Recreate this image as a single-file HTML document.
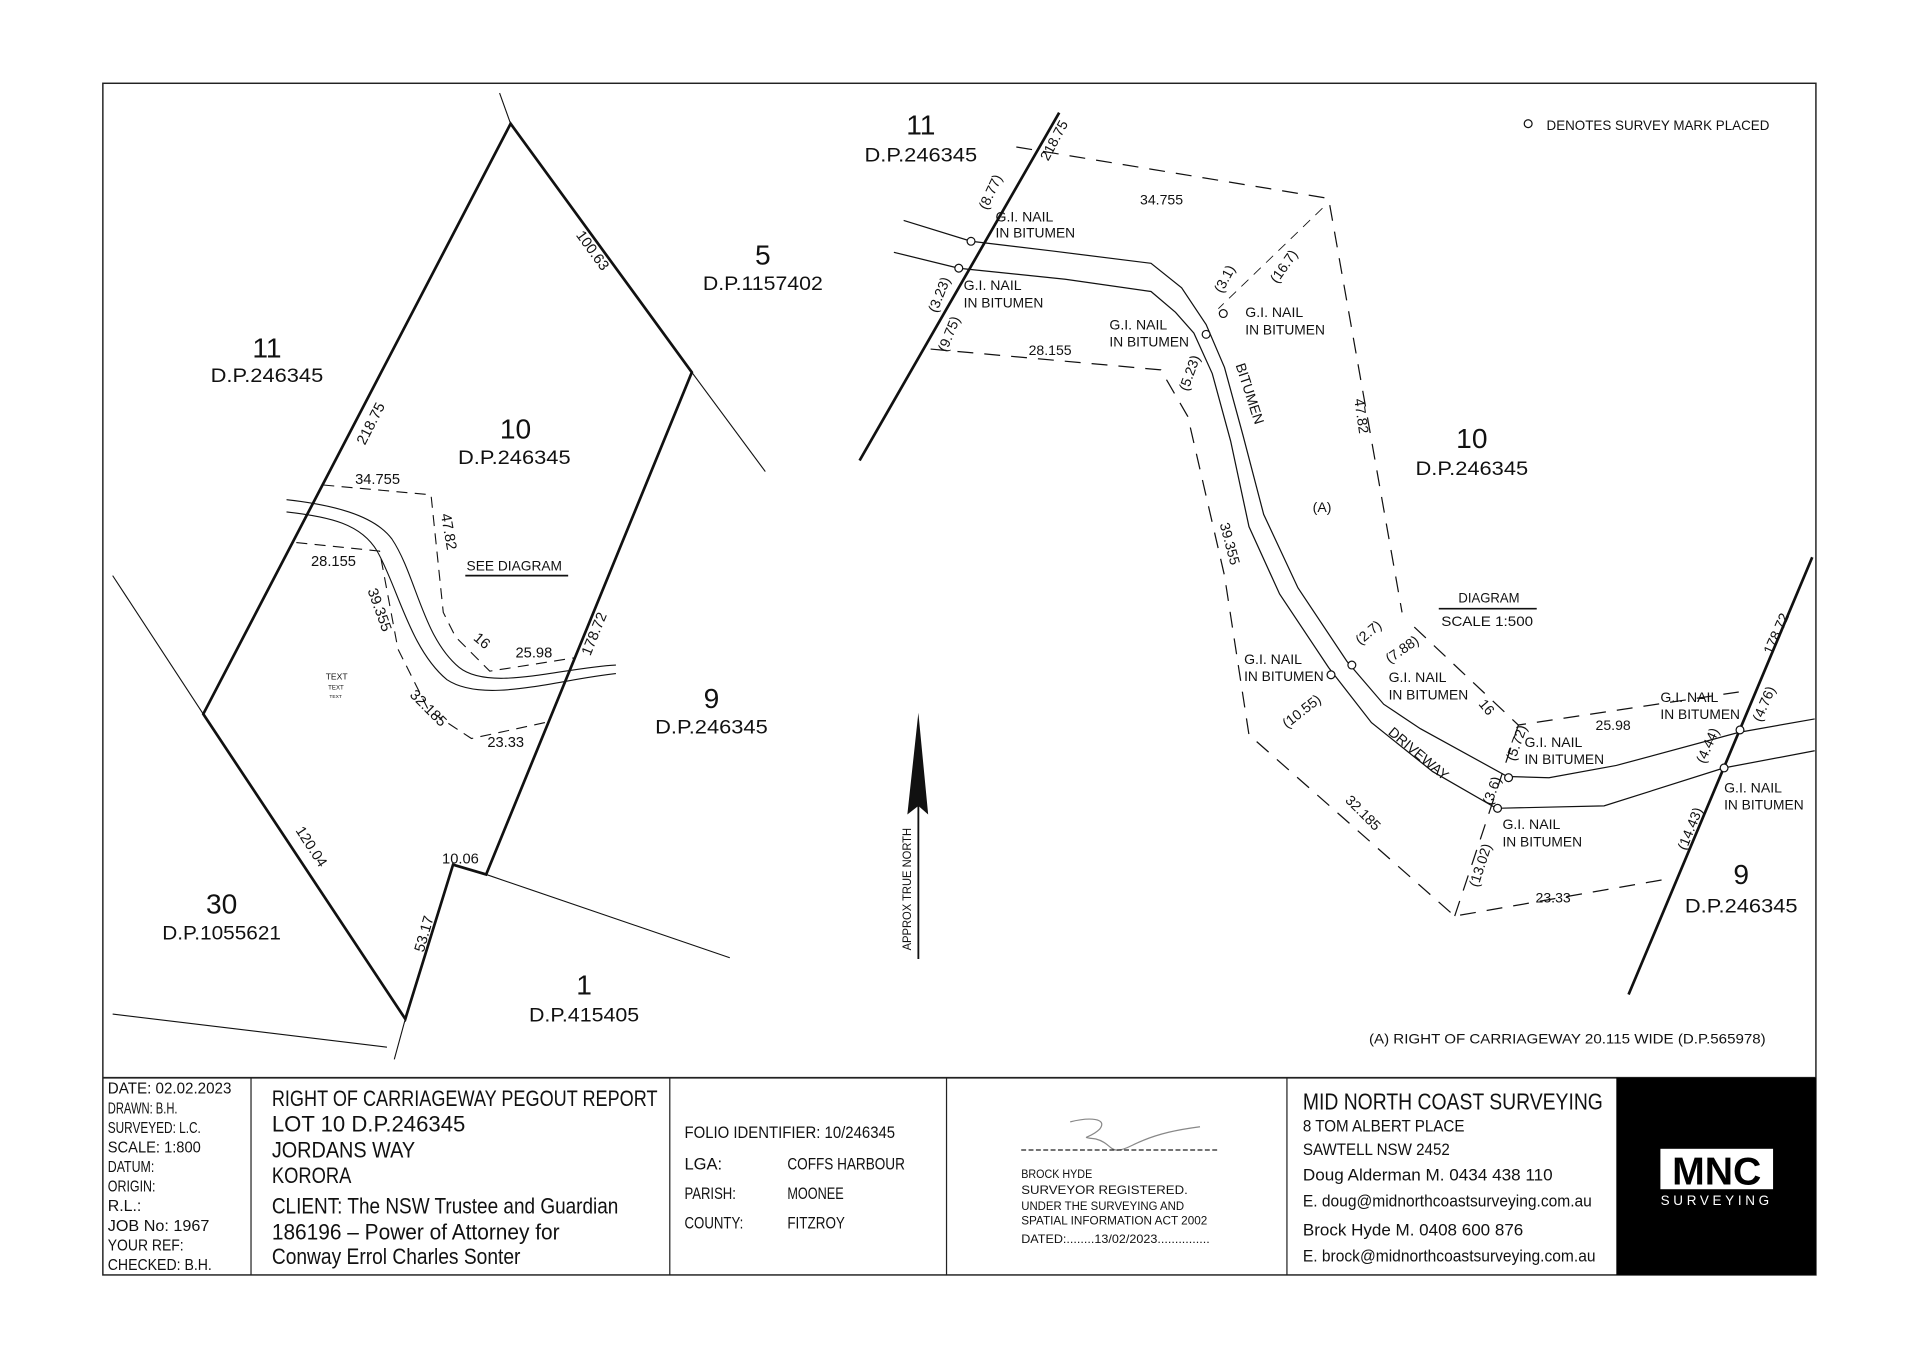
<!DOCTYPE html>
<html><head><meta charset="utf-8"><style>
html,body{margin:0;padding:0;background:#fff;}
svg{display:block;}
text{font-family:"Liberation Sans",sans-serif;fill:#111;}
</style></head><body>
<svg width="1920" height="1357" viewBox="0 0 1568 1108" preserveAspectRatio="none" xmlns="http://www.w3.org/2000/svg">
<rect x="0" y="0" width="1568" height="1108" fill="#fff"/>
<g fill="none" stroke="#222">
<rect x="84" y="68" width="1399" height="973" stroke-width="1.2"/>
<line x1="84" y1="880" x2="1483" y2="880" stroke-width="1.5"/>
<line x1="205" y1="880" x2="205" y2="1041"/>
<line x1="547" y1="880" x2="547" y2="1041"/>
<line x1="773" y1="880" x2="773" y2="1041"/>
<line x1="1051" y1="880" x2="1051" y2="1041"/>
</g>
<rect x="1320" y="880" width="163" height="161" fill="#000"/>

<!-- left lot -->
<g fill="none" stroke="#111">
<polygon points="417,101 565,304 397,714 370,706 331,832 166,583" stroke-width="2.2"/>
<g stroke-width="0.9">
<line x1="408" y1="76" x2="417" y2="101"/>
<line x1="565" y1="304" x2="625" y2="385"/>
<line x1="166" y1="583" x2="92" y2="470"/>
<line x1="331" y1="832" x2="322" y2="865"/>
<line x1="92" y1="828" x2="316" y2="855"/>
<line x1="397" y1="714" x2="596" y2="782"/>
<path d="M234,408 C270,412 305,420 320,440 C340,470 345,520 375,545 C400,565 460,545 503,543"/>
<path d="M234,418 C270,422 295,428 308,450 C325,480 335,530 365,555 C395,575 455,555 503,550"/>
</g>
<g stroke-width="0.9" stroke-dasharray="9,6">
<path d="M264,396 L352,404 L362,500 L372,520 L400,548 L470,537"/>
<path d="M242,443 L310,450 L325,530 L350,580 L385,603 L445,590"/>
</g>
</g>
<g font-size="12">
<text x="290" y="395">34.755</text>
<text x="254" y="462">28.155</text>
<text x="421" y="537">25.98</text>
<text x="398" y="610">23.33</text>
<text x="361" y="705">10.06</text>
<text transform="translate(360,420) rotate(80)">47.82</text>
<text transform="translate(300,482) rotate(70)">39.355</text>
<text transform="translate(334,568) rotate(45)">32.185</text>
<text transform="translate(386,522) rotate(40)">16</text>
<text transform="translate(470,192) rotate(54)">100.63</text>
<text transform="translate(298,364) rotate(-63)">218.75</text>
<text transform="translate(482,536) rotate(-68)">178.72</text>
<text transform="translate(241,678) rotate(57)">120.04</text>
<text transform="translate(346,778) rotate(-74)">53.17</text>
</g>
<text x="381" y="466" font-size="11.5" textLength="78" lengthAdjust="spacingAndGlyphs">SEE DIAGRAM</text>
<line x1="380" y1="470" x2="464" y2="470" stroke="#111" stroke-width="1.5"/>
<text x="266" y="555" font-size="7">TEXT</text><text x="268" y="563" font-size="5">TEXT</text><text x="269" y="570" font-size="4">TEXT</text>
<g font-size="23" text-anchor="middle">
<text x="218" y="292">11</text>
<text x="421" y="358">10</text>
<text x="623" y="216">5</text>
<text x="581" y="578">9</text>
<text x="181" y="746">30</text>
<text x="477" y="812">1</text>
<text x="752" y="110">11</text>
<text x="1202" y="366">10</text>
<text x="1422" y="722">9</text>
</g>
<g font-size="16" text-anchor="middle">
<text x="218" y="312" textLength="92" lengthAdjust="spacingAndGlyphs">D.P.246345</text>
<text x="420" y="379" textLength="92" lengthAdjust="spacingAndGlyphs">D.P.246345</text>
<text x="623" y="237" textLength="98" lengthAdjust="spacingAndGlyphs">D.P.1157402</text>
<text x="581" y="599" textLength="92" lengthAdjust="spacingAndGlyphs">D.P.246345</text>
<text x="181" y="767" textLength="97" lengthAdjust="spacingAndGlyphs">D.P.1055621</text>
<text x="477" y="834" textLength="90" lengthAdjust="spacingAndGlyphs">D.P.415405</text>
<text x="752" y="132" textLength="92" lengthAdjust="spacingAndGlyphs">D.P.246345</text>
<text x="1202" y="388" textLength="92" lengthAdjust="spacingAndGlyphs">D.P.246345</text>
<text x="1422" y="745" textLength="92" lengthAdjust="spacingAndGlyphs">D.P.246345</text>
</g>

<!-- north arrow -->
<line x1="750" y1="783" x2="750" y2="600" stroke="#111" stroke-width="1.5"/>
<polygon points="741,665 750,582 758,665 750,658" fill="#111"/>
<text transform="translate(744,776) rotate(-90)" font-size="10" textLength="100" lengthAdjust="spacingAndGlyphs">APPROX TRUE NORTH</text>

<!-- right diagram -->
<g fill="none" stroke="#111">
<line x1="702" y1="376" x2="865" y2="92" stroke-width="2.2"/>
<line x1="1330" y1="812" x2="1480" y2="455" stroke-width="2.2"/>
<g stroke-width="1">
<path d="M738,180 L793,197 L860,205 L940,215 L965,235 L985,265 L1000,300 L1015,355 L1032,420 L1060,480 L1100,540 L1130,575 L1160,595 L1231,634 L1265,635 L1320,625 L1420,598 L1482,587"/>
<path d="M730,206 L783,219 L870,228 L940,238 L960,255 L975,272 L990,305 L1005,360 L1020,430 L1045,485 L1085,545 L1120,590 L1170,630 L1222,660 L1310,658 L1408,627 L1482,613"/>
</g>
<g stroke-width="1" stroke-dasharray="13,9">
<path d="M830,120 L1085,162 L1145,500"/>
<path d="M1155,512 L1240,592 L1420,565"/>
<path d="M760,285 L948,302 L970,340 L1000,470 L1020,600 L1188,748 L1360,718"/>
<path d="M1188,748 L1240,592"/>
</g>
<path d="M1080,170 L995,252" stroke-width="0.7" stroke-dasharray="8,6"/>
<g stroke-width="1" fill="#fff">
<circle cx="793" cy="197" r="3.2"/><circle cx="783" cy="219" r="3.2"/>
<circle cx="999" cy="256" r="3.2"/><circle cx="985" cy="273" r="3.2"/>
<circle cx="1104" cy="543" r="3.2"/><circle cx="1087" cy="551" r="3.2"/>
<circle cx="1232" cy="635" r="3.2"/><circle cx="1223" cy="660" r="3.2"/>
<circle cx="1421" cy="596" r="3.2"/><circle cx="1408" cy="627" r="3.2"/>
<circle cx="1248" cy="101" r="3.2"/>
</g>
</g>
<g font-size="11.5">
<text x="1263" y="106" textLength="182" lengthAdjust="spacingAndGlyphs">DENOTES SURVEY MARK PLACED</text>
<g>
<text x="813" y="181">G.I. NAIL</text><text x="813" y="194" textLength="65" lengthAdjust="spacingAndGlyphs">IN BITUMEN</text>
<text x="787" y="237">G.I. NAIL</text><text x="787" y="251" textLength="65" lengthAdjust="spacingAndGlyphs">IN BITUMEN</text>
<text x="906" y="269">G.I. NAIL</text><text x="906" y="283" textLength="65" lengthAdjust="spacingAndGlyphs">IN BITUMEN</text>
<text x="1017" y="259">G.I. NAIL</text><text x="1017" y="273" textLength="65" lengthAdjust="spacingAndGlyphs">IN BITUMEN</text>
<text x="1016" y="542">G.I. NAIL</text><text x="1016" y="556" textLength="65" lengthAdjust="spacingAndGlyphs">IN BITUMEN</text>
<text x="1134" y="557">G.I. NAIL</text><text x="1134" y="571" textLength="65" lengthAdjust="spacingAndGlyphs">IN BITUMEN</text>
<text x="1245" y="610">G.I. NAIL</text><text x="1245" y="624" textLength="65" lengthAdjust="spacingAndGlyphs">IN BITUMEN</text>
<text x="1356" y="573">G.I. NAIL</text><text x="1356" y="587" textLength="65" lengthAdjust="spacingAndGlyphs">IN BITUMEN</text>
<text x="1408" y="647">G.I. NAIL</text><text x="1408" y="661" textLength="65" lengthAdjust="spacingAndGlyphs">IN BITUMEN</text>
<text x="1227" y="677">G.I. NAIL</text><text x="1227" y="691" textLength="65" lengthAdjust="spacingAndGlyphs">IN BITUMEN</text>
</g>
<text x="931" y="167">34.755</text>
<text x="840" y="290">28.155</text>
<text x="1303" y="596">25.98</text>
<text x="1254" y="737">23.33</text>
<text x="1072" y="418">(A)</text>
<text transform="translate(1106,326) rotate(82)">47.82</text>
<text transform="translate(996,428) rotate(75)">39.355</text>
<text transform="translate(1098,654) rotate(45)">32.185</text>
<text transform="translate(1207,575) rotate(50)">16</text>
<text transform="translate(1009,298) rotate(72)">BITUMEN</text>
<text transform="translate(1133,599) rotate(40)">DRIVEWAY</text>
<text transform="translate(856,132) rotate(-62)">218.75</text>
<text transform="translate(1447,535) rotate(-66)">178.72</text>
<text transform="translate(806,172) rotate(-65)">(8.77)</text>
<text transform="translate(765,256) rotate(-68)">(3.23)</text>
<text transform="translate(773,288) rotate(-68)">(9.75)</text>
<text transform="translate(998,240) rotate(-62)">(3.1)</text>
<text transform="translate(1043,232) rotate(-55)">(16.7)</text>
<text transform="translate(970,320) rotate(-70)">(5.23)</text>
<text transform="translate(1111,527) rotate(-40)">(2.7)</text>
<text transform="translate(1135,542) rotate(-35)">(7.88)</text>
<text transform="translate(1051,595) rotate(-38)">(10.55)</text>
<text transform="translate(1237,622) rotate(-70)">(5.72)</text>
<text transform="translate(1218,658) rotate(-70)">(3.6)</text>
<text transform="translate(1207,725) rotate(-72)">(13.02)</text>
<text transform="translate(1392,624) rotate(-66)">(4.44)</text>
<text transform="translate(1438,590) rotate(-66)">(4.76)</text>
<text transform="translate(1377,695) rotate(-68)">(14.43)</text>
<text x="1191" y="492" textLength="50" lengthAdjust="spacingAndGlyphs">DIAGRAM</text>
<text x="1177" y="511" textLength="75" lengthAdjust="spacingAndGlyphs">SCALE 1:500</text>
<text x="1118" y="852" textLength="324" lengthAdjust="spacingAndGlyphs">(A)  RIGHT OF CARRIAGEWAY 20.115 WIDE (D.P.565978)</text>
</g>
<line x1="1175" y1="497" x2="1255" y2="497" stroke="#111" stroke-width="1.3"/>

<!-- title block -->
<g font-size="13">
<text x="88" y="893" textLength="101" lengthAdjust="spacingAndGlyphs">DATE: 02.02.2023</text>
<text x="88" y="909" textLength="57" lengthAdjust="spacingAndGlyphs">DRAWN: B.H.</text>
<text x="88" y="925" textLength="76" lengthAdjust="spacingAndGlyphs">SURVEYED: L.C.</text>
<text x="88" y="941" textLength="76" lengthAdjust="spacingAndGlyphs">SCALE: 1:800</text>
<text x="88" y="957" textLength="38" lengthAdjust="spacingAndGlyphs">DATUM:</text>
<text x="88" y="973" textLength="39" lengthAdjust="spacingAndGlyphs">ORIGIN:</text>
<text x="88" y="989">R.L.:</text>
<text x="88" y="1005" textLength="83" lengthAdjust="spacingAndGlyphs">JOB No: 1967</text>
<text x="88" y="1021" textLength="62" lengthAdjust="spacingAndGlyphs">YOUR REF:</text>
<text x="88" y="1037" textLength="85" lengthAdjust="spacingAndGlyphs">CHECKED: B.H.</text>
</g>
<g font-size="18">
<text x="222" y="903" textLength="315" lengthAdjust="spacingAndGlyphs">RIGHT OF CARRIAGEWAY PEGOUT REPORT</text>
<text x="222" y="924" textLength="158" lengthAdjust="spacingAndGlyphs">LOT 10 D.P.246345</text>
<text x="222" y="945" textLength="117" lengthAdjust="spacingAndGlyphs">JORDANS WAY</text>
<text x="222" y="966" textLength="65" lengthAdjust="spacingAndGlyphs">KORORA</text>
<text x="222" y="991" textLength="283" lengthAdjust="spacingAndGlyphs">CLIENT: The NSW Trustee and Guardian</text>
<text x="222" y="1012" textLength="235" lengthAdjust="spacingAndGlyphs">186196 – Power of Attorney for</text>
<text x="222" y="1032" textLength="203" lengthAdjust="spacingAndGlyphs">Conway Errol Charles Sonter</text>
</g>
<g font-size="13.5">
<text x="559" y="929" textLength="172" lengthAdjust="spacingAndGlyphs">FOLIO IDENTIFIER: 10/246345</text>
<text x="559" y="955">LGA:</text><text x="643" y="955" textLength="96" lengthAdjust="spacingAndGlyphs">COFFS HARBOUR</text>
<text x="559" y="979" textLength="42" lengthAdjust="spacingAndGlyphs">PARISH:</text><text x="643" y="979" textLength="46" lengthAdjust="spacingAndGlyphs">MOONEE</text>
<text x="559" y="1003" textLength="48" lengthAdjust="spacingAndGlyphs">COUNTY:</text><text x="643" y="1003" textLength="47" lengthAdjust="spacingAndGlyphs">FITZROY</text>
</g>
<path d="M874,916 C890,912 905,913 898,922 C890,930 880,928 895,930 C910,934 905,945 925,935 C945,925 965,922 980,920" fill="none" stroke="#888" stroke-width="1"/>
<line x1="834" y1="939" x2="994" y2="939" stroke="#222" stroke-width="1" stroke-dasharray="4,2"/>
<g font-size="10">
<text x="834" y="962" textLength="58" lengthAdjust="spacingAndGlyphs">BROCK HYDE</text>
<text x="834" y="975" textLength="136" lengthAdjust="spacingAndGlyphs">SURVEYOR REGISTERED.</text>
<text x="834" y="988" textLength="133" lengthAdjust="spacingAndGlyphs">UNDER THE SURVEYING AND</text>
<text x="834" y="1000" textLength="152" lengthAdjust="spacingAndGlyphs">SPATIAL INFORMATION ACT 2002</text>
<text x="834" y="1015" textLength="154" lengthAdjust="spacingAndGlyphs">DATED:........13/02/2023...............</text>
</g>
<text x="1064" y="906" font-size="19" textLength="245" lengthAdjust="spacingAndGlyphs">MID NORTH COAST SURVEYING</text>
<g font-size="13.5">
<text x="1064" y="924" textLength="132" lengthAdjust="spacingAndGlyphs">8 TOM ALBERT PLACE</text>
<text x="1064" y="943" textLength="120" lengthAdjust="spacingAndGlyphs">SAWTELL NSW 2452</text>
<text x="1064" y="964" textLength="204" lengthAdjust="spacingAndGlyphs">Doug Alderman M. 0434 438 110</text>
<text x="1064" y="985" textLength="236" lengthAdjust="spacingAndGlyphs">E. doug@midnorthcoastsurveying.com.au</text>
<text x="1064" y="1009" textLength="180" lengthAdjust="spacingAndGlyphs">Brock Hyde M. 0408 600 876</text>
<text x="1064" y="1030" textLength="239" lengthAdjust="spacingAndGlyphs">E. brock@midnorthcoastsurveying.com.au</text>
</g>
<rect x="1356" y="938" width="92" height="33" fill="#fff"/>
<text x="1402" y="967" font-size="32" font-weight="bold" text-anchor="middle" style="fill:#000">MNC</text>
<text x="1402" y="984" font-size="11" text-anchor="middle" letter-spacing="3" style="fill:#fff">SURVEYING</text>
</svg>
</body></html>
